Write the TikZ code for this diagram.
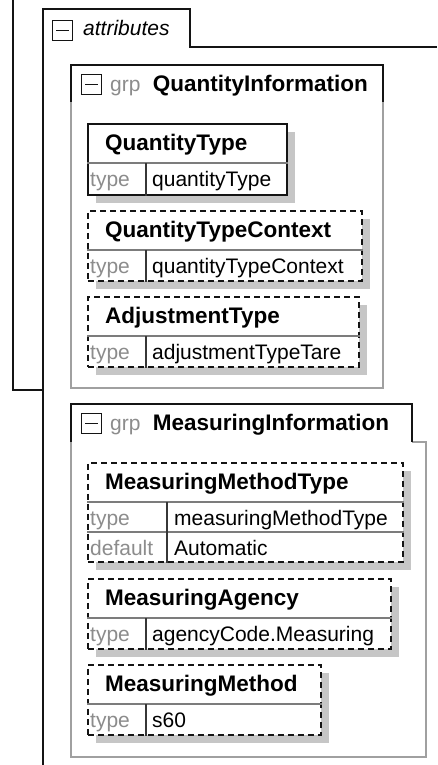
\documentclass[tikz,border=0pt]{standalone}
\usepackage{fontspec}
\setmainfont{Liberation Sans}
\usepackage{tikz}
\usetikzlibrary{positioning,shadows}
\usepackage{xcolor}
\definecolor{Ink}{HTML}{141414}
\definecolor{Frame}{HTML}{A0A0A0}
\definecolor{Shade}{HTML}{C6C6C6}
\definecolor{Hint}{HTML}{8C8C8C}
\definecolor{Rule}{HTML}{7C7C7C}
\tikzset{
  edge/.style={draw=Ink, line width=1.6pt},
  grpedge/.style={draw=Frame, line width=1.6pt},
  collapse/.style={draw=Ink, line width=1.4pt, anchor=north west, inner sep=0pt, minimum width=20pt, minimum height=20pt, font=\fontsize{1}{1}\selectfont},
  dash sign/.style={draw=Ink, line width=1.4pt},
  elem/.style={draw=Ink, line width=1.7pt, fill=white, anchor=north west, inner sep=0pt, drop shadow={shadow xshift=8pt, shadow yshift=-8pt, fill=Shade, opacity=1}},
  optelem/.style={elem, dash pattern=on 6pt off 4pt},
  ename/.style={anchor=base west, inner sep=0pt, font=\fontsize{22.5}{26}\selectfont\bfseries},
  elabel/.style={anchor=base west, inner sep=0pt, text=Hint, font=\fontsize{21}{24}\selectfont},
  evalue/.style={anchor=base west, inner sep=0pt, font=\fontsize{21}{24}\selectfont},
  rowline/.style={draw=Rule, line width=1.2pt},
  colline/.style={draw=Ink!85, line width=1.2pt}
}

\begin{document}
\begin{tikzpicture}[x=1pt, y=-1pt]
\useasboundingbox (0,0) rectangle (437,765);
% parent and attributes frames
\draw[edge] (13,0) -- (13,390) -- (43,390);
\draw[edge] (43,765) -- (43,9) -- (190,9) -- (190,47) -- (437,47);
\node[collapse] (attricon) at (52,20) {};
\node[evalue, font=\fontsize{21}{24}\selectfont\itshape] (attr) at (83,36) {attributes};
% group QuantityInformation
\draw[grpedge] (71,102) -- (71,388) -- (383,388) -- (383,102);
\draw[edge] (71,102) -- (71,65) -- (383,65) -- (383,102);
\node[collapse] (qinfoicon) at (81,74) {};
\node[elabel] (qinfogrp) at (110,92) {grp};
\node[ename, base right=12pt of qinfogrp] (qinfo) {QuantityInformation};
\node[elem, minimum width=199pt, minimum height=71pt] (qtype) at (87,123) {};
\node[ename] (qtype-name) at ([shift={(18,27)}]qtype.north west) {QuantityType};
\draw[rowline] ([shift={(0,40)}]qtype.north west) -- ([shift={(0,40)}]qtype.north east);
\draw[colline] ([shift={(59,40)}]qtype.north west) -- ([xshift=59pt]qtype.south west);
\node[elabel] (qtype-key) at ([shift={(3,63)}]qtype.north west) {type};
\node[evalue] (qtype-val) at ([shift={(65,63)}]qtype.north west) {quantityType};
% group MeasuringInformation
\draw[grpedge] (412,442) -- (426,442) -- (426,757) -- (71,757) -- (71,442);
\draw[edge] (71,442) -- (71,404) -- (412,404) -- (412,442);
\node[collapse] (minfoicon) at (81,413) {};
\node[elabel] (minfogrp) at (110,430) {grp};
\node[ename, base right=12pt of minfogrp] (minfo) {MeasuringInformation};
\node[optelem, minimum width=315pt, minimum height=99pt] (mtype) at (87,462) {};
\node[ename] (mtype-name) at ([shift={(18,27)}]mtype.north west) {MeasuringMethodType};
\foreach \r in {40,70} \draw[rowline] ([shift={(0,\r)}]mtype.north west) -- ([shift={(0,\r)}]mtype.north east);
\draw[colline] ([shift={(80,40)}]mtype.north west) -- ([xshift=80pt]mtype.south west);
\node[elabel] (mtype-key) at ([shift={(3,63)}]mtype.north west) {type};
\node[evalue] (mtype-val) at ([shift={(87,63)}]mtype.north west) {measuringMethodType};
\node[elabel] (mtype-defkey) at ([shift={(3,93)}]mtype.north west) {default};
\node[evalue] (mtype-def) at ([shift={(87,93)}]mtype.north west) {Automatic};
% optional elements with one type row
\foreach \id/\ty/\w/\nm/\val in {qctx/210/274/QuantityTypeContext/quantityTypeContext, adjt/296/271/AdjustmentType/adjustmentTypeTare, magency/578/303/MeasuringAgency/agencyCode.Measuring, mmethod/664/233/MeasuringMethod/s60}{
  \node[optelem, minimum width=\w pt, minimum height=70pt] (\id) at (87,\ty) {};
  \node[ename] (\id-name) at ([shift={(18,27)}]\id.north west) {\nm};
  \draw[rowline] ([shift={(0,40)}]\id.north west) -- ([shift={(0,40)}]\id.north east);
  \draw[colline] ([shift={(59,40)}]\id.north west) -- ([xshift=59pt]\id.south west);
  \node[elabel] (\id-key) at ([shift={(3,63)}]\id.north west) {type};
  \node[evalue] (\id-val) at ([shift={(65,63)}]\id.north west) {\val};
}
% minus signs of the collapse boxes
\foreach \n in {attricon,qinfoicon,minfoicon} \draw[dash sign] ([xshift=4pt]\n.west) -- ([xshift=-4pt]\n.east);
\end{tikzpicture}
\end{document}
